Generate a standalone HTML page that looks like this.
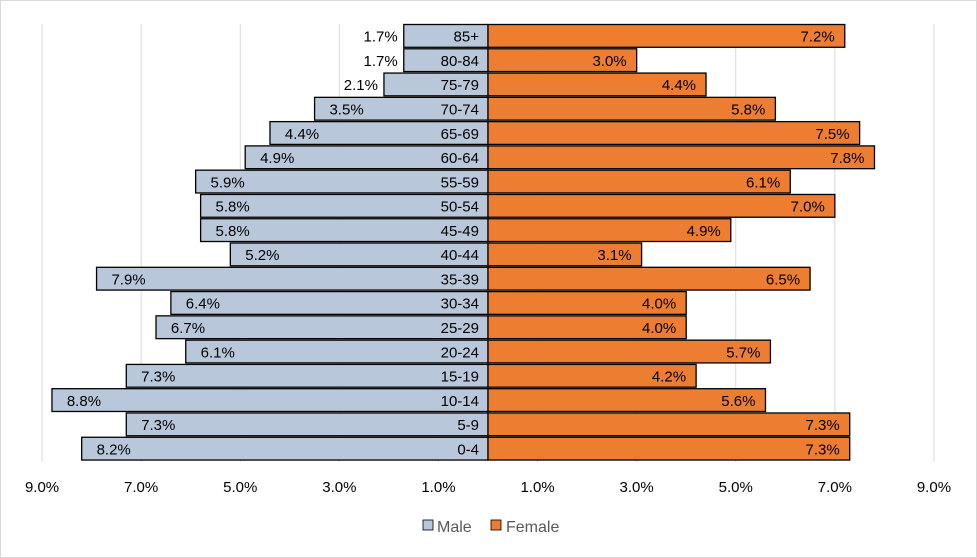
<!DOCTYPE html>
<html><head><meta charset="utf-8">
<style>
html,body{margin:0;padding:0;background:#fff;}
svg{display:block;font-family:"Liberation Sans",sans-serif;}
</style></head>
<body>
<svg id="chart" width="977" height="558" viewBox="0 0 977 558">
<rect x="0.5" y="0.5" width="976" height="557" fill="#fff" stroke="#d9d9d9"/>
<g id="grid"></g>
<g id="bars"></g>
<g id="labels"></g>
<g id="ticks"></g>
<g>
<g>
<rect x="423" y="520" width="10" height="10" fill="#b8c7da" stroke="#000" stroke-width="0.8"/>
<text x="437" y="532" font-size="16" fill="#595959">Male</text>
</g>
<g>
<rect x="491" y="520" width="10" height="10" fill="#ed7d31" stroke="#000" stroke-width="0.8"/>
<text x="506" y="532" font-size="16" fill="#595959">Female</text>
</g>
</g>
</svg>
<script>
const categories = ["85+","80-84","75-79","70-74","65-69","60-64","55-59","50-54","45-49","40-44","35-39","30-34","25-29","20-24","15-19","10-14","5-9","0-4"];
const maleValues = [1.7,1.7,2.1,3.5,4.4,4.9,5.9,5.8,5.8,5.2,7.9,6.4,6.7,6.1,7.3,8.8,7.3,8.2];
const femaleValues = [7.2,3.0,4.4,5.8,7.5,7.8,6.1,7.0,4.9,3.1,6.5,4.0,4.0,5.7,4.2,5.6,7.3,7.3];
const tickValues = [-9,-7,-5,-3,-1,1,3,5,7,9];

const NS = "http://www.w3.org/2000/svg";
const cx = 488, pxPer = 49.55, topY = 24, bandH = 24.28;
function xPos(v){ return cx + v*pxPer; }
function yPos(i){ return topY + i*bandH; }
function mk(tag, attrs, parent){ const e=document.createElementNS(NS,tag); for(const k in attrs) e.setAttribute(k,attrs[k]); parent.appendChild(e); return e; }

const grid = document.getElementById('grid');
const ticks = document.getElementById('ticks');
tickValues.forEach(t=>{
  const x = xPos(t);
  const l = mk('line',{x1:x,x2:x,y1:24,y2:462,stroke:'#d9d9d9','stroke-width':1},grid);
  
  
  const tx = mk('text',{x:x,y:492,'font-size':15,'text-anchor':'middle',fill:'#000'},ticks);
  tx.textContent = Math.abs(t).toFixed(1)+'%';
  
  
});

const bars = document.getElementById('bars');
const labels = document.getElementById('labels');
categories.forEach((c,i)=>{
  const y = yPos(i)+0.5, h = bandH-1.5;
  const m = maleValues[i], f = femaleValues[i];
  const mb = mk('rect',{x:xPos(-m),y:y,width:xPos(0)-xPos(-m),height:h,fill:'#b8c7da',stroke:'#000','stroke-width':1.3},bars);
  
  
  const fb = mk('rect',{x:xPos(0),y:y,width:xPos(f)-xPos(0),height:h,fill:'#ed7d31',stroke:'#000','stroke-width':1.3},bars);
  
  
  const ty = yPos(i)+bandH/2+5.5;
  const end = xPos(-m);
  const ml = m<3 ? mk('text',{x:end-6,y:ty,'font-size':15,'text-anchor':'end'},labels)
                 : mk('text',{x:end+32,y:ty,'font-size':15,'text-anchor':'middle'},labels);
  ml.textContent = m.toFixed(1)+'%';
  
  
  const fl = mk('text',{x:xPos(f)-10,y:ty,'font-size':15,'text-anchor':'end'},labels);
  fl.textContent = f.toFixed(1)+'%';
  
  
  const cl = mk('text',{x:479,y:ty,'font-size':15,'text-anchor':'end'},labels);
  cl.textContent = c;
  
  
});
</script>
</body></html>
